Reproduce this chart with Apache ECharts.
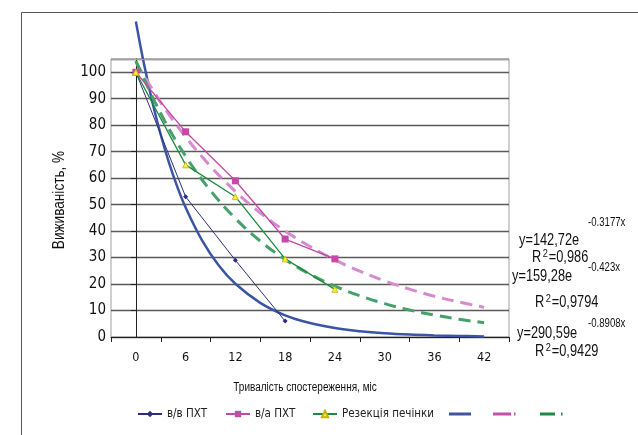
<!DOCTYPE html>
<html>
<head>
<meta charset="utf-8">
<script src="https://cdn.jsdelivr.net/npm/echarts@6/dist/echarts.min.js"></script>
<style>
html,body{margin:0;padding:0;background:#fff;}
#chart{width:638px;height:435px;}
</style>
</head>
<body>
<div id="chart"></div>
<script>
// ---- data ----
var categories = ['0','6','12','18','24','30','36','42'];
var months = [0, 6, 12, 18, 24];
var ivPCT = [100, 53, 29, 6];            // в/в ПХТ
var iaPCT = [100, 77.5, 59, 37, 29.5];   // в/а ПХТ
var resection = [100, 65, 53, 29.5, 18]; // Резекція печінки

var trendMonthsIV = [0,1,2,3,4,5,6,8,10,12,15,18,21,24,27,30,33,36,39,42];
var trendIV = [119.2,102.8,88.6,76.4,65.8,56.7,48.9,36.4,27.0,20.1,12.9,8.2,5.3,3.4,2.2,1.4,0.9,0.6,0.4,0.2];
var trendMonths = [0,3,6,9,12,15,18,21,24,27,30,33,36,39,42];
var trendIA = [103.9,88.6,75.6,64.5,55.0,46.9,40.0,34.2,29.1,24.9,21.2,18.1,15.4,13.2,11.2];
var trendRes = [104.3,84.4,68.3,55.3,44.8,36.2,29.3,23.7,19.2,15.6,12.6,10.2,8.3,6.7,5.4];

var seriesNames = ['в/в ПХТ', 'в/а ПХТ', 'Резекція печінки', ' ', '  ', '   '];
var equations = [
  {y: 'y=142,72e', exp: '-0.3177x', r2: '=0,986'},
  {y: 'y=159,28e', exp: '-0.423x', r2: '=0,9794'},
  {y: 'y=290,59e', exp: '-0.8908x', r2: '=0,9429'}
];

function pairs(xs, ys){ return ys.map(function(v,i){ return [xs[i], v]; }); }

var AXFONT = "'DejaVu Sans Condensed','DejaVu Sans',sans-serif";
var NFONT = "'Liberation Sans',Arial,sans-serif";
var SX = 0.8;
var chart = echarts.init(document.getElementById('chart'), null, {renderer:'canvas'});

var legendPos = [137, 225, 312, 449, 493, 540];
var legendIcons = [null, null, null,
  'path://M0,0h22v3h-22z',
  'path://M0,0h18v3h-18zM21,0h1.5v3h-1.5z',
  'path://M0,0h15v3h-15zM21,0h1.5v3h-1.5z'];
var legends = seriesNames.map(function(n, i){
  return {
    data: [legendIcons[i] ? {name:n, icon:legendIcons[i]} : n], left: legendPos[i], top: 408,
    padding: 0, itemWidth: 24, itemHeight: i < 3 ? 8 : 3, itemGap: 0,
    textStyle: {fontFamily: AXFONT, fontSize: 11.5, color: '#222'},
    selectedMode: false
  };
});

var graphics = [
  {type:'rect', shape:{x:21.5, y:12.5, width:700, height:500}, style:{fill:'none', stroke:'#555', lineWidth:1}, silent:true},
  {type:'line', shape:{x1:111, y1:59.5, x2:509, y2:59.5}, style:{stroke:'#a0a0a0', lineWidth:1}, z:10, silent:true},
  {type:'text', x:60, y:200, rotation:Math.PI/2, scaleX:0.85,
   style:{text:'Виживаність, %', font:'16px ' + NFONT, fill:'#111', textAlign:'center', textVerticalAlign:'middle'}},
  {type:'text', x:305, y:388, scaleX:SX,
   style:{text:'Тривалість спостереження, міс', font:'12.5px ' + NFONT, fill:'#111', textAlign:'center', textVerticalAlign:'middle'}}
];
var eqPos = [
  {x:519, y:241, sx:588, sy:223, rx:532, ry:258},
  {x:512, y:277, sx:588, sy:268, rx:535, ry:303},
  {x:517, y:334, sx:588, sy:324, rx:535, ry:352}
];
equations.forEach(function(e, i){
  var p = eqPos[i];
  graphics.push({type:'text', x:p.x, y:p.y, scaleX:SX, style:{text:e.y, font:'16px ' + NFONT, fill:'#111', textVerticalAlign:'middle'}});
  graphics.push({type:'text', x:p.sx, y:p.sy, scaleX:SX, style:{text:e.exp, font:'12px ' + NFONT, fill:'#111', textVerticalAlign:'middle'}});
  graphics.push({type:'text', x:p.rx, y:p.ry, scaleX:SX, style:{
    text:'{b|R}{s|2}{b|' + e.r2 + '}', fill:'#111', textVerticalAlign:'middle',
    rich:{b:{font:'16px ' + NFONT, fill:'#111'}, s:{font:'11.5px ' + NFONT, fill:'#111', verticalAlign:'top', padding:[0,1,8,2]}}
  }});
});

var option = {
  animation: false,
  backgroundColor: '#fff',
  grid: {left:111, right:129, top:59, bottom:98, show:true, borderColor:'#a0a0a0', borderWidth:1},
  legend: legends,
  graphic: graphics,
  xAxis: [
    {type:'value', min:-3, max:45, show:false},
    {type:'category', data:categories, boundaryGap:true, position:'bottom',
     axisLine:{lineStyle:{color:'#222', width:1}},
     axisTick:{show:true, alignWithLabel:false, length:5, lineStyle:{color:'#222'}},
     axisLabel:{fontFamily:AXFONT, fontSize:12.5, color:'#111', margin:14},
     splitLine:{show:false}}
  ],
  yAxis: {
    type:'value', min:0, max:105, interval:10,
    axisLine:{show:true, lineStyle:{color:'#222', width:1}},
    axisTick:{show:true, length:5, lineStyle:{color:'#222'}},
    axisLabel:{fontFamily:AXFONT, fontSize:15, color:'#111', margin:5, showMaxLabel:false},
    splitLine:{show:true, lineStyle:{color:'#5a5a5a', width:1.3}}
  },
  series: [
    {name:seriesNames[0], type:'line', xAxisIndex:0, data:pairs(months, ivPCT),
     symbol:'diamond', symbolSize:5, itemStyle:{color:'#2b2d7c'}, lineStyle:{color:'#2b2d7c', width:1}, z:5},
    {name:seriesNames[1], type:'line', xAxisIndex:0, data:pairs(months, iaPCT),
     symbol:'rect', symbolSize:7, itemStyle:{color:'#c648a6'}, lineStyle:{color:'#c648a6', width:1.3}, z:5},
    {name:seriesNames[2], type:'line', xAxisIndex:0, data:pairs(months, resection),
     symbol:'triangle', symbolSize:6, itemStyle:{color:'#f2f23a', borderColor:'#c8b400', borderWidth:0.8},
     lineStyle:{color:'#1f8a3e', width:1.3}, z:5},
    {name:seriesNames[3], type:'line', xAxisIndex:0, data:pairs(trendMonthsIV, trendIV), clip:false,
     smooth:0.4, showSymbol:false, symbol:'none', lineStyle:{color:'#3b54a6', width:2.5}, itemStyle:{color:'#3b54a6'}, z:4},
    {name:seriesNames[4], type:'line', xAxisIndex:0, data:pairs(trendMonths, trendIA), clip:false,
     smooth:0.4, showSymbol:false, symbol:'none', lineStyle:{color:'#d68ad0', width:3, type:[12,7]}, itemStyle:{color:'#c64fae'}, z:4},
    {name:seriesNames[5], type:'line', xAxisIndex:0, data:pairs(trendMonths, trendRes), clip:false,
     smooth:0.4, showSymbol:false, symbol:'none', lineStyle:{color:'#45a06a', width:3, type:[12,7]}, itemStyle:{color:'#1f8a45'}, z:4}
  ]
};
chart.setOption(option);
</script>
</body>
</html>
